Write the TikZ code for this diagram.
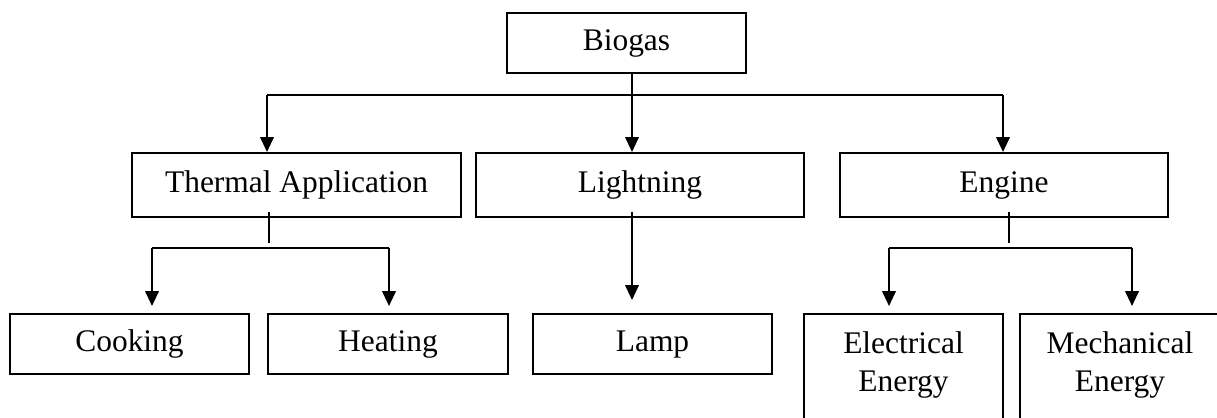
\documentclass[tikz,border=0pt]{standalone}
\usepackage{fontspec}
\setmainfont{Liberation Serif}
\usetikzlibrary{arrows.meta,calc}
\begin{document}
\begin{tikzpicture}[x=0.02cm,y=-0.02cm,
  box/.style={draw,line width=1.1pt,rectangle,inner sep=0pt,
    font=\fontsize{17.9}{22.1}\selectfont},
  onebox/.style={box,text height=13pt,text depth=3.9pt},
  twobox/.style={box,align=center,text height=1.212cm,text depth=0.292cm},
  arr/.style={line width=1.3pt,-{Triangle[width=0.27cm,length=0.3cm]}},
  hline/.style={line width=1pt},
  tickline/.style={line width=0.6pt}]
\clip (0,0) rectangle (1217,418);
% nodes
\node[onebox,minimum width=4.78cm,minimum height=1.2cm] (bio) at (626.5,43) {Biogas};
\node[onebox,minimum width=6.58cm,minimum height=1.28cm] (therm) at (296.5,185) {Thermal Application};
\node[onebox,minimum width=6.56cm,minimum height=1.28cm] (lig) at (640,185) {Lightning};
\node[onebox,minimum width=6.56cm,minimum height=1.28cm] (eng) at (1004,185) {Engine};
\node[onebox,minimum width=4.78cm,minimum height=1.2cm] (cook) at (129.5,344) {Cooking};
\node[onebox,minimum width=4.8cm,minimum height=1.2cm] (heat) at (388,344) {Heating};
\node[onebox,minimum width=4.78cm,minimum height=1.2cm] (lamp) at (652.5,344) {Lamp};
\node[twobox,minimum width=3.98cm,minimum height=2.2cm] (elec) at (903.5,369) {Electrical\\Energy};
\node[twobox,minimum width=4.0cm,minimum height=2.2cm] (mech) at (1120,369) {Mechanical\\Energy};
% first level connectors
\coordinate (bl) at (267,95);
\coordinate (br) at (1003,95);
\coordinate (bm) at (632,95);
\draw[hline] (bl) -- (br);
\draw[arr] (bl) -- (bl |- therm.north);
\draw[arr] (br) -- (br |- eng.north);
\draw[arr] (bio.south -| bm) -- (bm |- lig.north);
% thermal branch
\coordinate (tt) at (269,248);
\coordinate (t1) at (152,248);
\coordinate (t2) at (389,248);
\draw[tickline] ($(therm.south -| tt)+(0,-6)$) -- ($(tt)+(0,-5)$);
\draw[hline] (t1) -- (t2);
\draw[arr] (t1) -- ($(t1 |- cook.north)+(0,-7)$);
\draw[arr] (t2) -- ($(t2 |- heat.north)+(0,-7)$);
% lightning to lamp
\draw[arr] ($(lig.south -| bm)+(0,-6)$) -- ($(bm |- lamp.north)+(0,-13)$);
% engine branch
\coordinate (et) at (1009,248);
\coordinate (e1) at (889,248);
\coordinate (e2) at (1132,248);
\draw[tickline] ($(eng.south -| et)+(0,-6)$) -- ($(et)+(0,-5)$);
\draw[hline] (e1) -- (e2);
\draw[arr] (e1) -- ($(e1 |- elec.north)+(0,-7)$);
\draw[arr] (e2) -- ($(e2 |- mech.north)+(0,-7)$);
\end{tikzpicture}
\end{document}
